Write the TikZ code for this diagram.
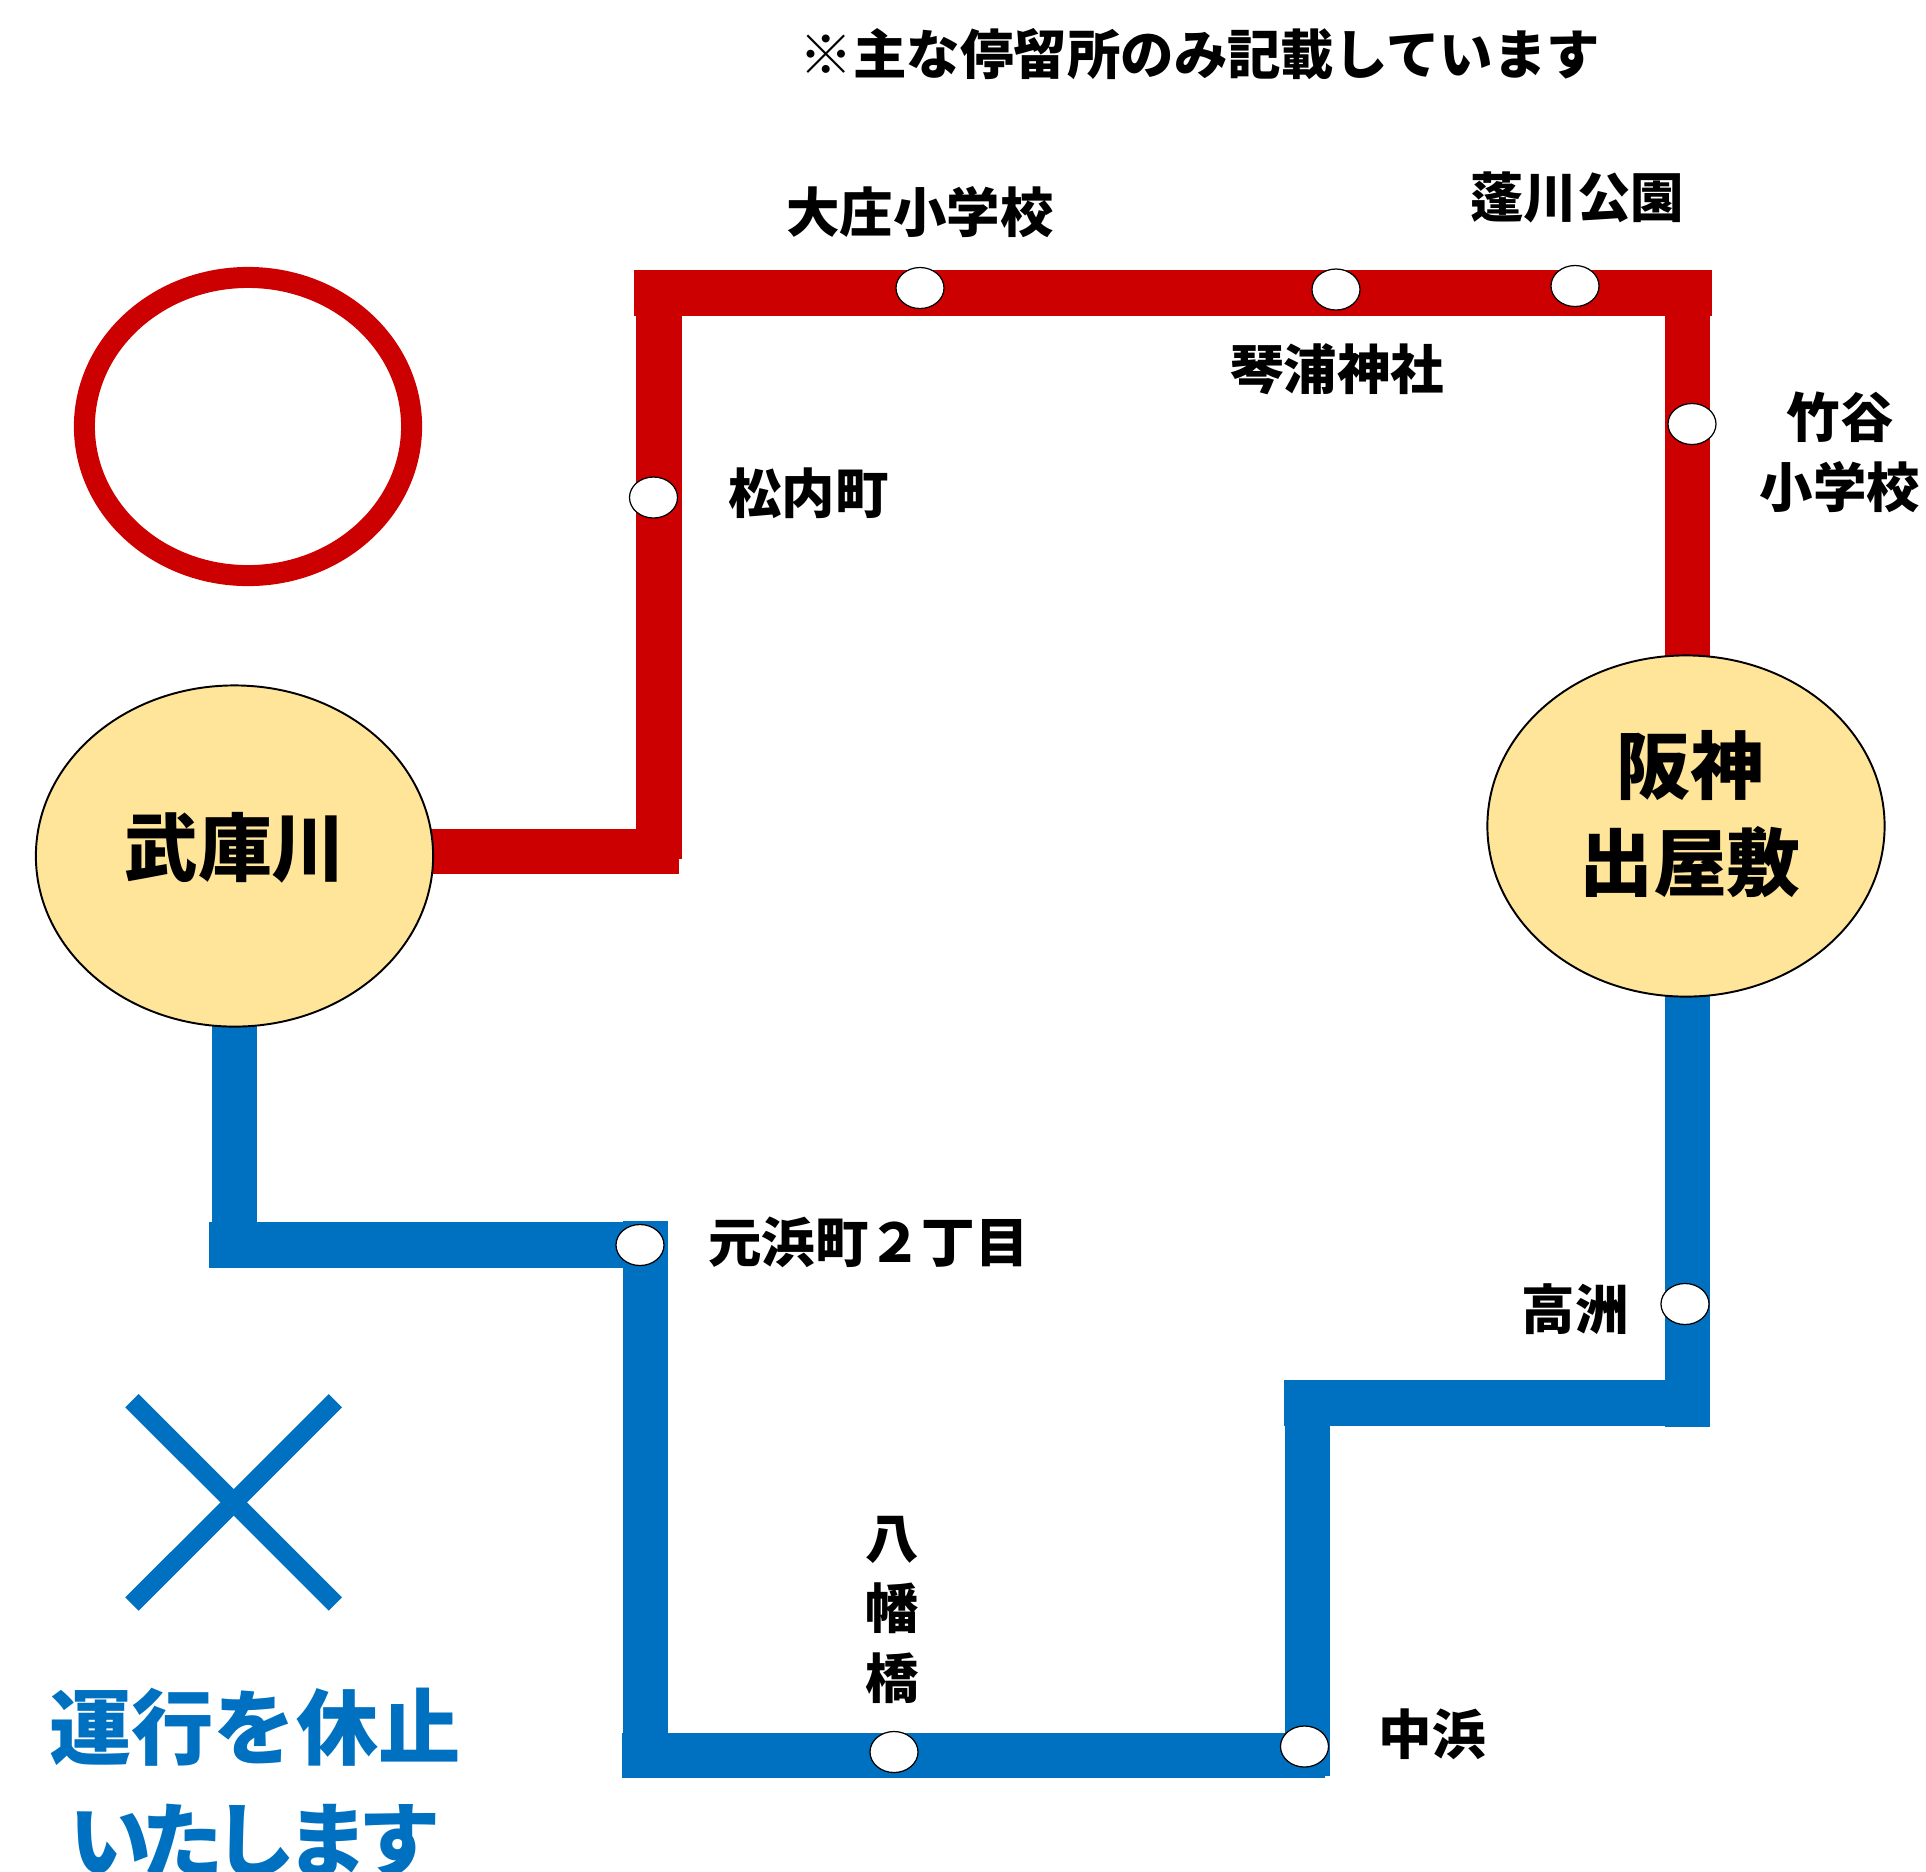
\documentclass[tikz,border=0pt]{standalone}
\usepackage{fontspec}
\newfontfamily\jpfont{Noto Sans CJK JP Black}
\usetikzlibrary{shapes.geometric, backgrounds}
\definecolor{linered}{HTML}{CC0000}
\definecolor{lineblue}{HTML}{0070C0}
\definecolor{hubyellow}{HTML}{FFE599}

\begin{document}
\begin{tikzpicture}[x=0.01cm, y=-0.01cm,
        stoplabel/.style={inner sep=0pt, align=center, font=\jpfont\fontsize{15.2}{19.9}\selectfont},
        hublabel/.style={inner sep=0pt, align=center, font=\jpfont\fontsize{21}{27.6}\selectfont},
        noticelabel/.style={inner sep=0pt, text=lineblue, font=\jpfont\fontsize{23.4}{32.4}\selectfont},
        hub/.style={draw, ellipse, fill=hubyellow, line width=0.55pt, inner sep=0pt, minimum width=3.97cm, minimum height=3.41cm},
        busstop/.style={draw, ellipse, fill=white, line width=0.35pt, inner sep=0pt, minimum width=0.48cm, minimum height=0.41cm},
        redrail/.style={linered, line width=0.455cm},
        bluerail/.style={lineblue, line width=0.455cm}]
        \useasboundingbox (0,0) rectangle (1926,1871);

        \node[stoplabel] (note) at (1200,54) {※主な停留所のみ記載しています};

        \node[draw=linered, ellipse, line width=0.21cm, inner sep=0pt, minimum width=3.27cm, minimum height=2.98cm] (maru) at (248,426.5) {};

        \node[hub] (mukogawa) at (234.5,856) {};
        \node[hub] (demiyashiki) at (1686,826) {};
        \node[hublabel] (mukogawatext) at (235,848) {武庫川};
        \node[hublabel] (demiyashikitext) at (1690,814.5) {阪神\\出屋敷};

        \node[busstop] (matsunai) at (653.5,497.5) {};
        \node[busstop] (osho) at (920,288) {};
        \node[busstop] (kotoura) at (1336,289.5) {};
        \node[busstop] (yomogawa) at (1575,286) {};
        \node[busstop] (taketani) at (1692,424) {};
        \node[busstop] (takasu) at (1685,1304) {};
        \node[busstop] (nakahama) at (1304.5,1746.5) {};
        \node[busstop] (yawatabashi) at (894,1752) {};
        \node[busstop] (motohama) at (640,1245) {};

        \node[stoplabel] (matsunaitext) at (808.5,493) {松内町};
        \node[stoplabel] (oshotext) at (920,212) {大庄小学校};
        \node[stoplabel] (kotouratext) at (1337,369) {琴浦神社};
        \node[stoplabel] (yomogawatext) at (1577,197) {蓬川公園};
        \node[stoplabel] (taketanitext) at (1840,452) {竹谷\\小学校};
        \node[stoplabel] (takasutext) at (1575,1309) {高洲};
        \node[stoplabel] (nakahamatext) at (1432,1734) {中浜};
        \node[stoplabel] (yawatatext) at (892.5,1610) {八\\幡\\橋};
        \node[stoplabel] (motohamatext) at (868.5,1242) {元浜町２丁目};

        \coordinate (r0) at (300,851.5);
        \coordinate (r1) at (679,851.5);
        \coordinate (r2) at (659,859);
        \coordinate (r3) at (659,316);
        \coordinate (r4) at (634,293);
        \coordinate (r5) at (1712,293);
        \coordinate (r6) at (1687.5,316);
        \coordinate (b1) at (234.5,1268);
        \coordinate (b2) at (209,1245);
        \coordinate (b3) at (668,1245);
        \coordinate (b4) at (645.5,1221);
        \coordinate (b5) at (645.5,1778);
        \coordinate (b6) at (621.5,1755.5);
        \coordinate (b7) at (1325,1755.5);
        \coordinate (b8) at (1307.5,1776);
        \coordinate (b9) at (1307.5,1380);
        \coordinate (b10) at (1284,1403);
        \coordinate (b11) at (1710,1403);
        \coordinate (b12) at (1687.5,1427);

        \begin{scope}[on background layer]
            \draw[redrail] (r0) -- (r1);
            \draw[redrail] (r2) -- (r3);
            \draw[redrail] (r4) -- (r5);
            \draw[redrail] (r6) -- (r6 |- demiyashiki.center);
            \draw[bluerail] (mukogawa.center) -- (b1);
            \draw[bluerail] (b2) -- (b3);
            \draw[bluerail] (b4) -- (b5);
            \draw[bluerail] (b6) -- (b7);
            \draw[bluerail] (b8) -- (b9);
            \draw[bluerail] (b10) -- (b11);
            \draw[bluerail] (b12) -- (b12 |- demiyashiki.center);
        \end{scope}

        \coordinate (x1) at (132,1400.7);
        \coordinate (x2) at (335.4,1604);
        \coordinate (x3) at (335.4,1400.7);
        \coordinate (x4) at (132,1604);
        \draw[lineblue, line width=0.188cm] (x1) -- (x2);
        \draw[lineblue, line width=0.188cm] (x3) -- (x4);

        \node[noticelabel] (notice) at (255,1727) {運行を休止};
        \node[noticelabel] (noticetail) at (255,1841) {\addfontfeature{LetterSpace=-12}いたします};
\end{tikzpicture}
\end{document}
